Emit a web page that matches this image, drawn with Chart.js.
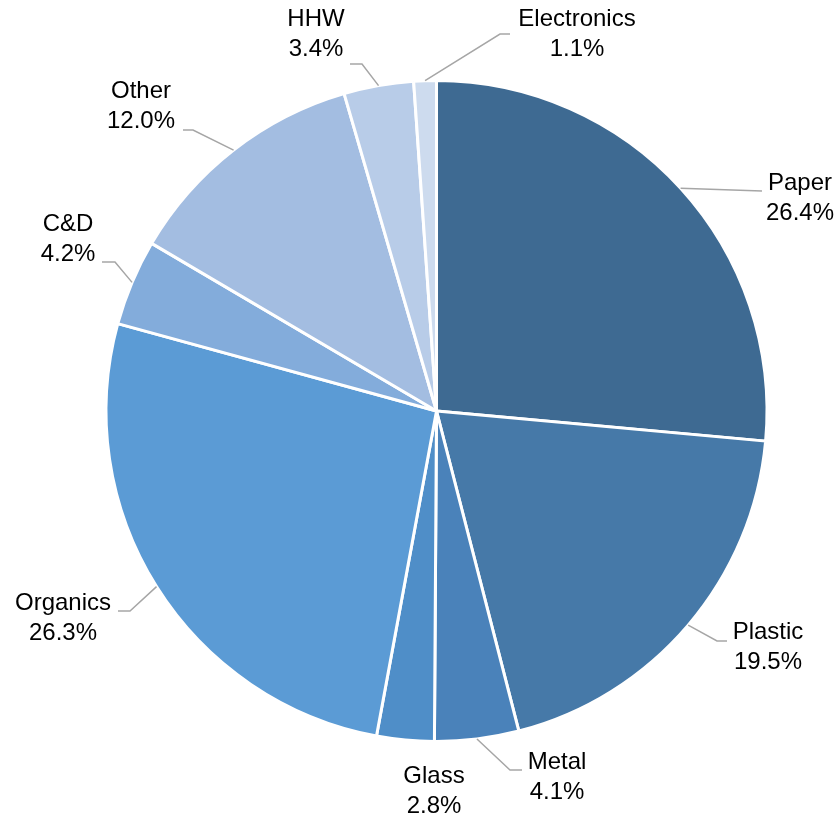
<!DOCTYPE html>
<html>
<head>
<meta charset="utf-8">
<script src="https://cdn.jsdelivr.net/npm/chart.js@4"></script>
<style>
  html, body { margin: 0; padding: 0; background: #fff; }
  #wrap { width: 840px; height: 821px; }
</style>
</head>
<body>
<div id="wrap"><canvas id="pie" width="840" height="821"></canvas></div>
<script>
const categorias = ["Paper", "Plastic", "Metal", "Glass", "Organics", "C&D", "Other", "HHW", "Electronics"];
const porcentajes = [26.4, 19.5, 4.1, 2.8, 26.3, 4.2, 12.0, 3.4, 1.1];
const colores = ["#3e6a92", "#4679a8", "#4a82ba", "#4f8ec8", "#5b9bd5", "#83acdb", "#a3bde1", "#b8cce8", "#cddbee"];

// donde va cada etiqueta: centro del texto, codo de la linea y final de la linea
const etiquetas = [
  { x: 800, y: 183, codo: null, fin: [762, 191] },
  { x: 768, y: 632, codo: [717, 641], fin: [727, 641] },
  { x: 557, y: 762, codo: [510, 770], fin: [522, 770] },
  { x: 434, y: 776, codo: null, fin: null },
  { x: 63, y: 603, codo: [130, 611], fin: [118, 611] },
  { x: 68, y: 224, codo: [115, 262], fin: [102, 262] },
  { x: 141, y: 91, codo: [193, 130], fin: [183, 130] },
  { x: 316, y: 19, codo: [362, 64], fin: [350, 64] },
  { x: 577, y: 19, codo: [500, 34], fin: [510, 34] }
];

const fuente = "24px 'Liberation Sans', Arial, sans-serif";

const pluginEtiquetas = {
  id: "etiquetas",
  afterDatasetsDraw(chart) {
    const c = chart.ctx;
    const arcos = chart.getDatasetMeta(0).data;
    c.save();
    arcos.forEach((arco, i) => {
      const et = etiquetas[i];
      if (et.fin) {
        const medio = (arco.startAngle + arco.endAngle) / 2;
        const px = arco.x + Math.cos(medio) * arco.outerRadius;
        const py = arco.y + Math.sin(medio) * arco.outerRadius;
        c.strokeStyle = "#a6a6a6";
        c.lineWidth = 1.5;
        c.beginPath();
        c.moveTo(px, py);
        if (et.codo) c.lineTo(et.codo[0], et.codo[1]);
        c.lineTo(et.fin[0], et.fin[1]);
        c.stroke();
      }
      c.fillStyle = "#000";
      c.font = fuente;
      c.textAlign = "center";
      c.textBaseline = "middle";
      c.fillText(categorias[i], et.x, et.y);
      c.fillText(porcentajes[i].toFixed(1) + "%", et.x, et.y + 30);
    });
    c.restore();
  }
};

new Chart(document.getElementById("pie"), {
  type: "pie",
  data: {
    labels: categorias,
    datasets: [{
      data: porcentajes,
      backgroundColor: colores,
      borderColor: "#ffffff",
      borderWidth: 3
    }]
  },
  options: {
    responsive: false,
    animation: false,
    layout: { padding: { left: 104, right: 71, top: 79, bottom: 78 } },
    plugins: {
      legend: { display: false },
      tooltip: { enabled: false }
    }
  },
  plugins: [pluginEtiquetas]
});
</script>
</body>
</html>
